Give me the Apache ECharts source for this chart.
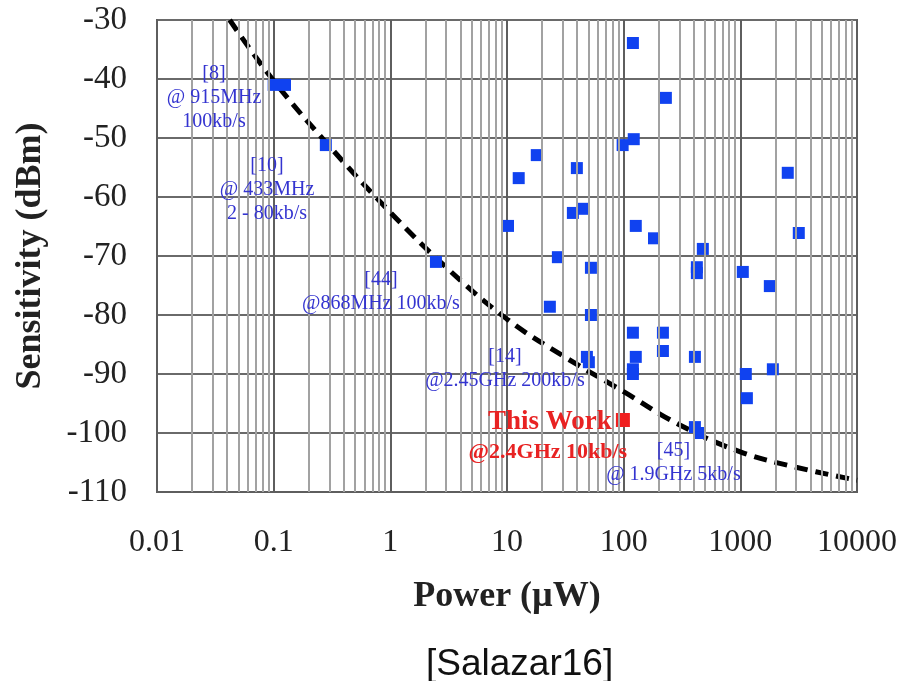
<!DOCTYPE html>
<html>
<head>
<meta charset="utf-8">
<title>Sensitivity vs Power</title>
<script src="https://cdn.jsdelivr.net/npm/echarts@6/dist/echarts.min.js"></script>
<style>
html, body { margin: 0; padding: 0; background: #fff; }
#chart { width: 908px; height: 681px; }
</style>
</head>
<body>
<div id="chart"></div>
<script>
// published receivers
var powerUW = [0.1, 0.125, 0.28, 2.46, 10.2, 12.6, 18, 23.3, 27.3, 39.7, 36.7, 45.6, 52.4, 52.4, 48.4, 50.3,
  98, 122, 120, 230, 127, 182, 477, 424, 424, 120, 217, 127, 217, 120, 120, 408,
  1050, 1790, 2550, 3170, 1114, 1900, 1138, 408, 450];
var sensDbm = [-41, -41, -51.2, -71, -64.9, -56.8, -52.9, -78.6, -70.2, -55.1, -62.7, -62, -72, -80, -87.1, -88,
  -51.2, -50.2, -33.9, -43.2, -64.9, -67, -68.8, -71.9, -72.9, -83, -83, -87.1, -86.1, -89.2, -90, -87.1,
  -72.7, -75.1, -55.9, -66.1, -90, -89.2, -94.1, -99, -100];

// this work
var thisWorkPower = [98.5];
var thisWorkSens = [-97.8];

// dashed trend line
var trendPower = [0.042, 0.1, 0.32, 1, 3, 10, 30, 100, 300, 1000, 3000, 10000];
var trendSens = [-30, -40.3, -52, -62.6, -71.9, -80.7, -86.9, -93.0, -98.6, -103.2, -105.8, -108];

// axes
var xTicks = [0.01, 0.1, 1, 10, 100, 1000, 10000];
var yTicks = [-110, -100, -90, -80, -70, -60, -50, -40, -30];

// blue notes
var noteText = ['[8]\n@ 915MHz\n100kb/s', '[10]\n@ 433MHz\n2 - 80kb/s', '[44]\n@868MHz 100kb/s',
  '[14]\n@2.45GHz 200kb/s', '[45]\n@ 1.9GHz 5kb/s'];
var notePower = [0.0308, 0.0877, 0.83, 9.6, 267];
var noteSens = [-43.1, -58.8, -76.0, -89.15, -105.1];

// red notes
var redText = ['This Work', '@2.4GHz 10kb/s'];
var redPower = [23.3, 22.4];
var redSens = [-98.1, -103.2];

var serif = 'Liberation Serif';

function zip(a, b) {
  var out = [];
  for (var i = 0; i < a.length; i++) out.push([a[i], b[i]]);
  return out;
}

// minor grid lines 2..9 in every decade
var minorLines = [];
for (var i = 0; i < xTicks.length - 1; i++) {
  for (var k = 2; k <= 9; k++) {
    minorLines.push({ xAxis: xTicks[i] * k });
  }
}

var chartDom = document.getElementById('chart');
var myChart = echarts.init(chartDom);
var option;

option = {
  animation: false,
  backgroundColor: '#fff',
  title: {
    text: '[Salazar16]',
    left: 421,
    top: 641,
    textStyle: { fontFamily: 'Liberation Sans', fontWeight: 'normal', fontSize: 37, color: '#111' }
  },
  grid: {
    left: 157,
    right: 51,
    top: 20,
    bottom: 189,
    show: true,
    borderColor: '#5e5e5e',
    borderWidth: 2
  },
  xAxis: {
    type: 'log',
    logBase: 10,
    min: xTicks[0],
    max: xTicks[xTicks.length - 1],
    splitNumber: 6,
    name: 'Power (\u00b5W)',
    nameLocation: 'middle',
    nameGap: 87,
    nameTextStyle: { fontFamily: serif, fontWeight: 'bold', fontSize: 36, color: '#222' },
    axisLine: { lineStyle: { color: '#5e5e5e', width: 2 } },
    axisTick: { show: false },
    axisLabel: {
      margin: 35,
      fontFamily: serif,
      fontSize: 32,
      color: '#222',
      formatter: function (v) { return String(Number(v.toPrecision(4))); }
    },
    splitLine: { show: true, lineStyle: { color: '#5e5e5e', width: 2 } }
  },
  yAxis: {
    type: 'value',
    min: yTicks[0],
    max: yTicks[yTicks.length - 1],
    interval: 10,
    name: 'Sensitivity (dBm)',
    nameLocation: 'middle',
    nameGap: 108,
    nameTextStyle: { fontFamily: serif, fontWeight: 'bold', fontSize: 36, color: '#222' },
    axisLine: { show: true, lineStyle: { color: '#5e5e5e', width: 2 } },
    axisTick: { show: false },
    axisLabel: { margin: 30, fontFamily: serif, fontSize: 33, color: '#222' },
    splitLine: { show: true, lineStyle: { color: '#6a6a6a', width: 2 } }
  },
  series: [
    {
      name: 'minor',
      type: 'line',
      data: [],
      z: 1,
      silent: true,
      markLine: {
        silent: true,
        symbol: 'none',
        label: { show: false },
        lineStyle: { color: '#a2a2a2', width: 2, type: 'solid', opacity: 1 },
        data: minorLines
      }
    },
    {
      name: 'trend',
      type: 'line',
      data: zip(trendPower, trendSens),
      smooth: 0.4,
      showSymbol: false,
      z: 3,
      lineStyle: { color: '#000', width: 5, type: [13, 8] }
    },
    {
      name: 'published',
      type: 'scatter',
      data: zip(powerUW, sensDbm),
      symbol: 'rect',
      symbolSize: 12,
      z: 4,
      itemStyle: { color: '#1042f0', opacity: 1 }
    },
    {
      name: 'this work',
      type: 'scatter',
      data: zip(thisWorkPower, thisWorkSens),
      symbol: 'rect',
      symbolSize: 14,
      z: 4,
      itemStyle: { color: '#f02020', opacity: 1 }
    },
    {
      name: 'notes',
      type: 'scatter',
      data: zip(notePower, noteSens),
      symbolSize: 0,
      z: 5,
      itemStyle: { opacity: 1 },
      label: {
        show: true,
        position: 'inside',
        fontFamily: serif,
        fontSize: 20,
        lineHeight: 24,
        align: 'center',
        color: '#3434d0',
        opacity: 1,
        formatter: function (p) { return noteText[p.dataIndex]; }
      }
    },
    {
      name: 'red notes',
      type: 'scatter',
      data: zip(redPower, redSens),
      symbolSize: 0,
      z: 5,
      itemStyle: { opacity: 1 },
      label: {
        show: true,
        position: 'inside',
        fontFamily: serif,
        fontWeight: 'bold',
        color: '#e82222',
        opacity: 1,
        formatter: function (p) {
          return p.dataIndex === 0 ? '{a|' + redText[0] + '}' : '{b|' + redText[1] + '}';
        },
        rich: {
          a: { fontFamily: serif, fontWeight: 'bold', fontSize: 27, color: '#e82222' },
          b: { fontFamily: serif, fontWeight: 'bold', fontSize: 22, color: '#e82222' }
        }
      }
    }
  ]
};

option && myChart.setOption(option);
</script>
</body>
</html>
